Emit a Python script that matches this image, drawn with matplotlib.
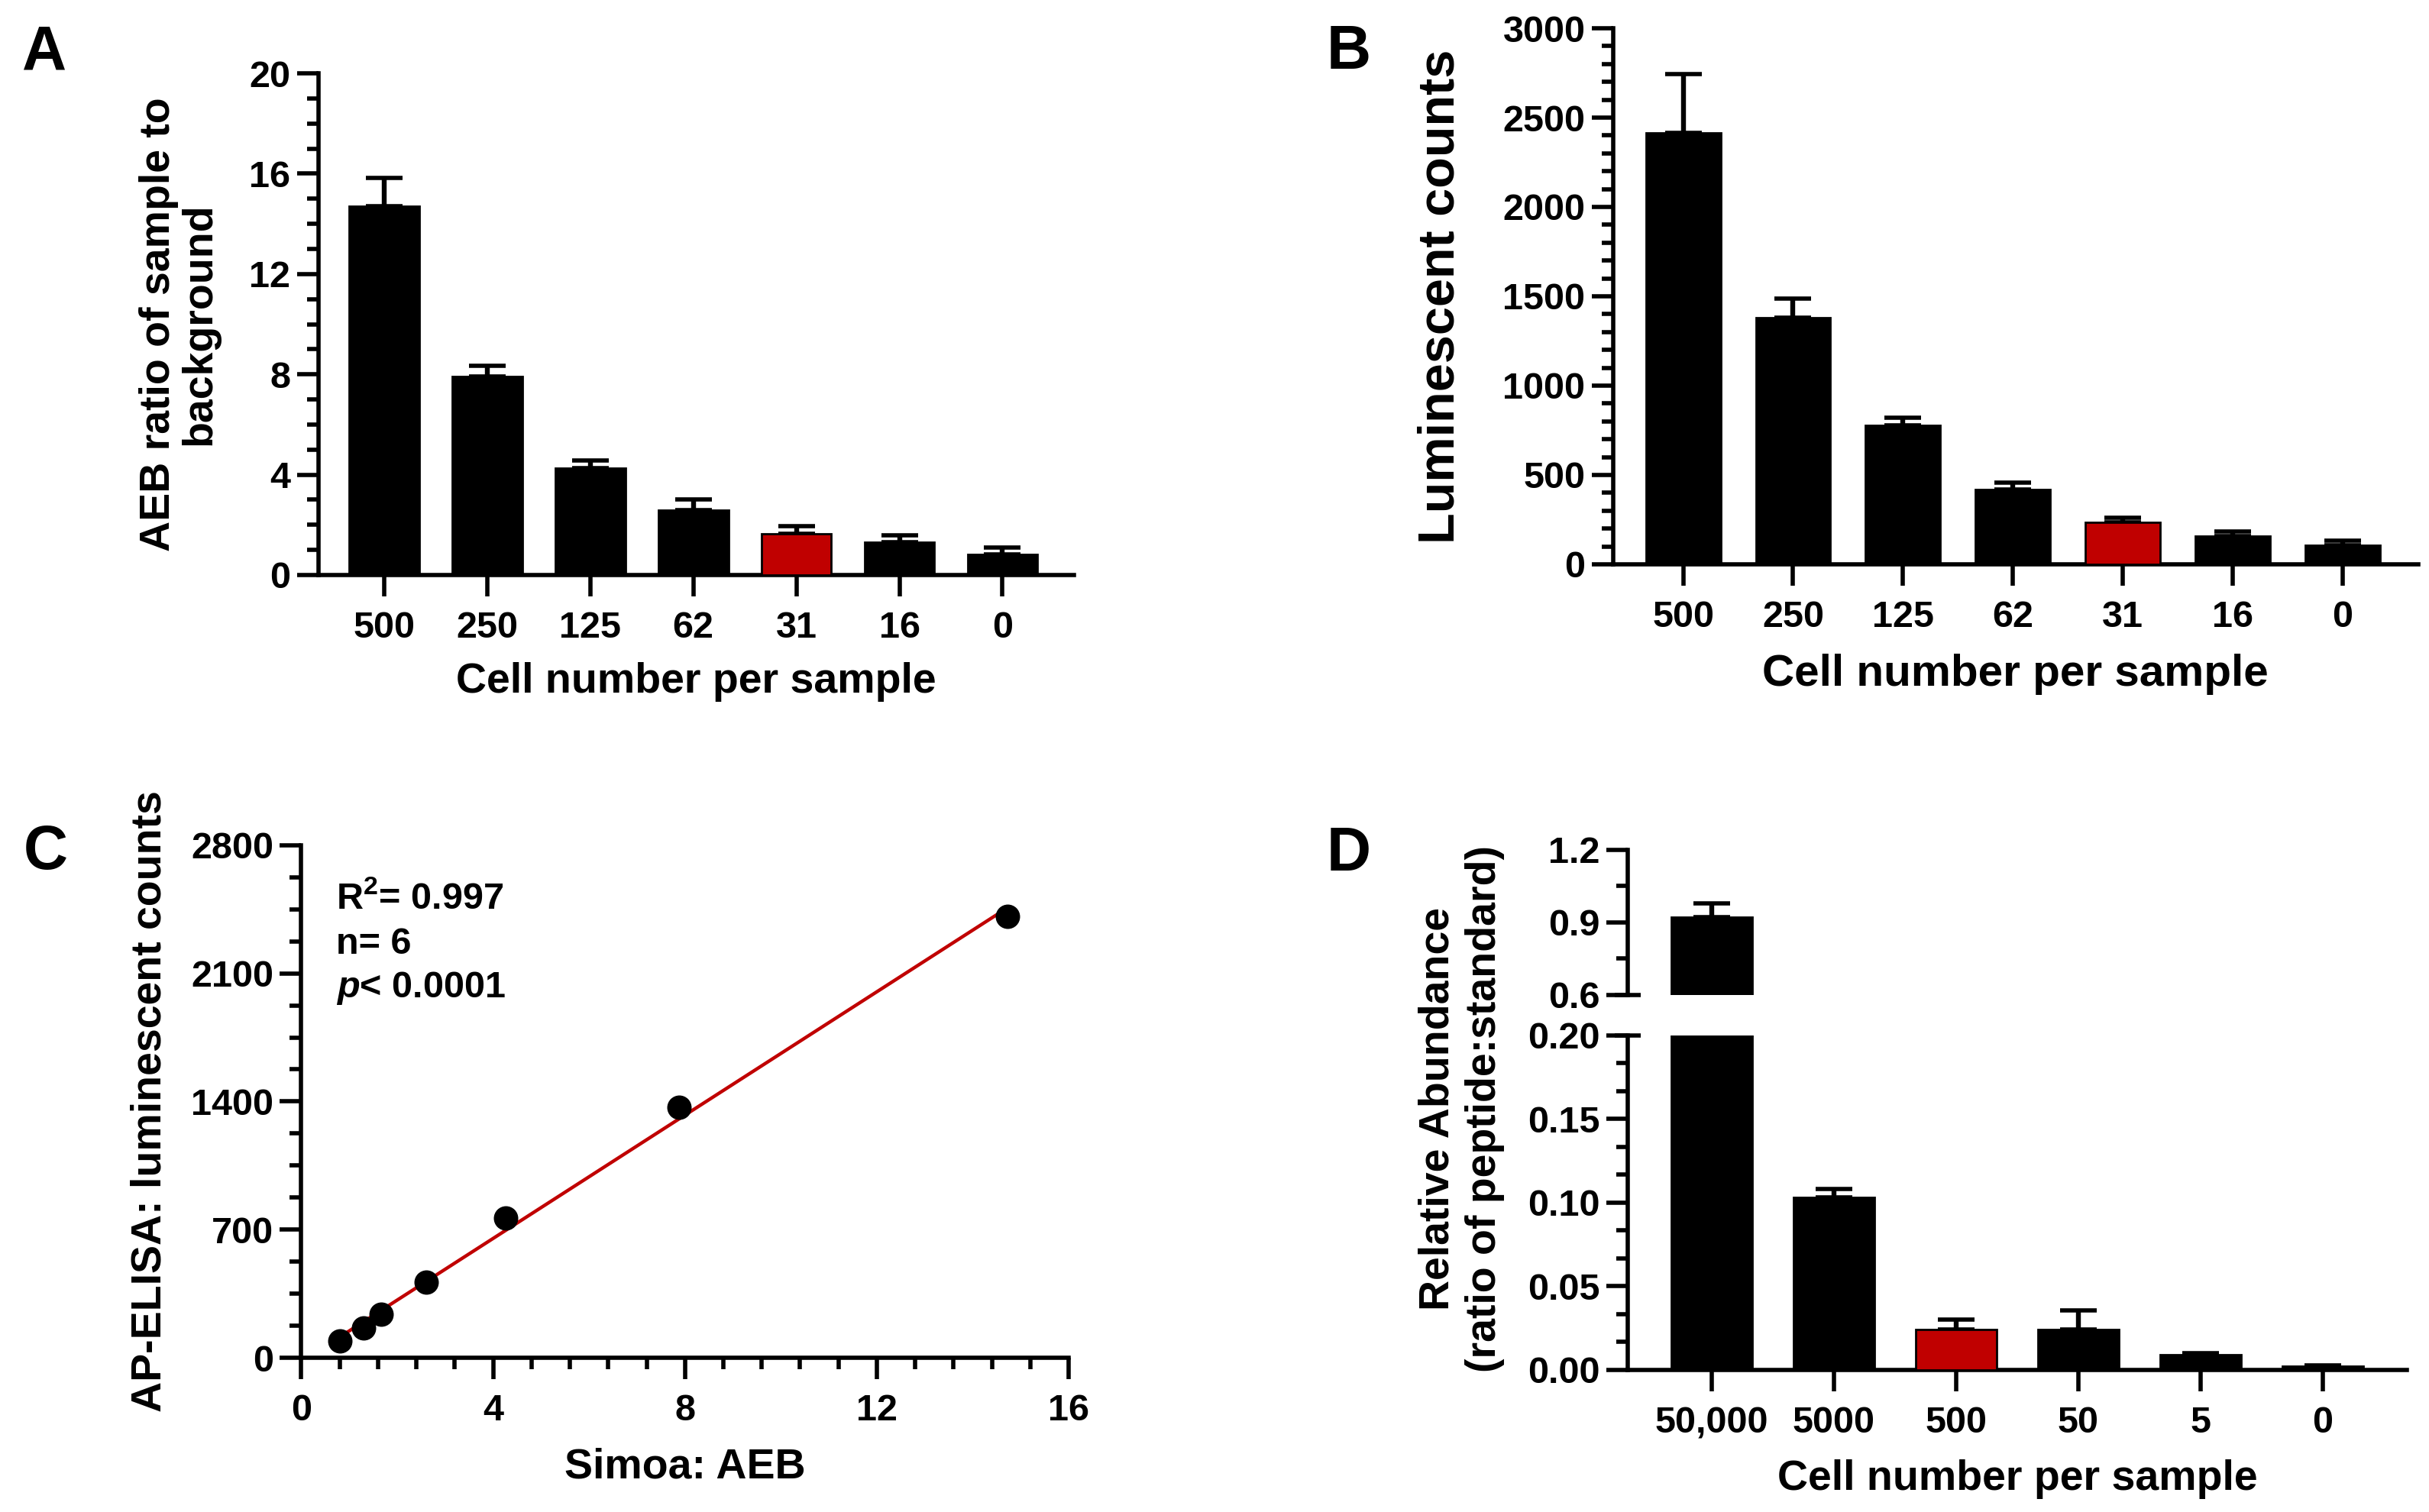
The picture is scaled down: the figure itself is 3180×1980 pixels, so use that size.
import numpy as np
import matplotlib
matplotlib.use("Agg")
import matplotlib.pyplot as plt
from matplotlib.ticker import MultipleLocator, FormatStrFormatter

plt.rcParams['font.family'] = ['Liberation Sans', 'DejaVu Sans']
plt.rcParams['font.weight'] = 'bold'
plt.rcParams['axes.labelweight'] = 'bold'
plt.rcParams['mathtext.fontset'] = 'custom'
plt.rcParams['mathtext.rm'] = 'Liberation Sans:bold'
plt.rcParams['mathtext.it'] = 'Liberation Sans:italic:bold'
plt.rcParams['mathtext.bf'] = 'Liberation Sans:bold'

# panel A / B: cell titration
cells_ab = ['500', '250', '125', '62', '31', '16', '0']
aeb_mean = [14.7, 7.9, 4.27, 2.6, 1.63, 1.3, 0.83]
aeb_err = [1.13, 0.43, 0.31, 0.4, 0.32, 0.28, 0.28]
lum_mean = [2416, 1381, 778, 419, 236, 157, 105]
lum_err = [327, 107, 42, 39, 26, 26, 26]
hl_ab = 4

# panel C: correlation
simoa_aeb = [0.81, 1.30, 1.67, 2.61, 4.26, 7.88, 14.72]
elisa_counts = [92, 163, 237, 413, 762, 1367, 2413]
stats_lines = ['$\\mathrm{R}^{2}$= 0.997', 'n= 6', '$p$< 0.0001']

# panel D: mass spec
cells_d = ['50,000', '5000', '500', '50', '5', '0']
abund_mean = [0.922, 0.1033, 0.0241, 0.0241, 0.009, 0.0022]
abund_err = [0.057, 0.0047, 0.006, 0.0115, 0.0011, 0.0005]
hl_d = 2

RED = '#C00000'
TICK_FS = 17.5
LABEL_FS = 20
LW = 2.0


def style(ax, xpad=7):
    for s in ['top', 'right']:
        ax.spines[s].set_visible(False)
    for s in ['left', 'bottom']:
        ax.spines[s].set_linewidth(LW)
    ax.tick_params(which='major', length=10, width=LW, labelsize=TICK_FS, direction='out')
    ax.tick_params(which='minor', length=5.5, width=LW, direction='out')
    ax.tick_params(axis='x', pad=xpad)
    ax.tick_params(axis='y', pad=3)


def bars(ax, labels, mean, err, hl, width=0.68):
    x = np.arange(len(labels))
    colors = ['black'] * len(labels)
    colors[hl] = RED
    ax.errorbar(x, mean, yerr=[np.zeros(len(mean)), err], fmt='none', ecolor='black',
                elinewidth=2.3, capsize=8.5, capthick=2.0, zorder=2)
    ax.bar(x, mean, width=width, color=colors, edgecolor='black', linewidth=1, zorder=3)
    ax.set_xticks(x)
    ax.set_xticklabels(labels)
    ax.set_xlim(-0.64, len(labels) - 1 + 0.69)
    return x


fig = plt.figure(figsize=(15.9, 9.9), dpi=200)

# A
axA = fig.add_axes([0.131, 0.6197, 0.311, 0.3318])
bars(axA, cells_ab, aeb_mean, aeb_err, hl_ab)
axA.set_ylim(0, 20)
axA.yaxis.set_major_locator(MultipleLocator(4))
axA.yaxis.set_minor_locator(MultipleLocator(1))
style(axA)
axA.set_xlabel('Cell number per sample', fontsize=LABEL_FS, labelpad=8)
axA.set_ylabel('AEB ratio of sample to\nbackground', fontsize=LABEL_FS, labelpad=14,
               linespacing=1.05)

# B
axB = fig.add_axes([0.664, 0.6268, 0.3316, 0.3545])
bars(axB, cells_ab, lum_mean, lum_err, hl_ab)
axB.set_ylim(0, 3000)
axB.yaxis.set_major_locator(MultipleLocator(500))
axB.yaxis.set_minor_locator(MultipleLocator(100))
style(axB)
axB.set_xlabel('Cell number per sample', fontsize=21, labelpad=9)
axB.set_ylabel('Luminescent counts', fontsize=24, labelpad=18)

# C
axC = fig.add_axes([0.124, 0.102, 0.316, 0.339])
slope, icpt = np.polyfit(simoa_aeb, elisa_counts, 1)
xl = np.array([min(simoa_aeb), max(simoa_aeb)])
axC.plot(xl, slope * xl + icpt, color=RED, lw=1.6, zorder=2)
axC.plot(simoa_aeb, elisa_counts, 'o', color='black', ms=10.5, zorder=3)
axC.set_xlim(0, 16)
axC.set_ylim(0, 2800)
axC.xaxis.set_major_locator(MultipleLocator(4))
axC.xaxis.set_minor_locator(MultipleLocator(0.8))
axC.yaxis.set_major_locator(MultipleLocator(700))
axC.yaxis.set_minor_locator(MultipleLocator(175))
style(axC)
for line, yv in zip(stats_lines, [2508, 2258, 2020]):
    axC.text(0.73, yv, line, fontsize=17.5, ha='left', va='center')
axC.set_xlabel('Simoa: AEB', fontsize=LABEL_FS, labelpad=9)
axC.set_ylabel('AP-ELISA: luminescent counts', fontsize=LABEL_FS, labelpad=10)

# D (broken axis)
axDt = fig.add_axes([0.670, 0.342, 0.321, 0.0959])
axDb = fig.add_axes([0.670, 0.094, 0.321, 0.2212])
for ax in (axDt, axDb):
    bars(ax, cells_d, abund_mean, abund_err, hl_d, width=0.66)
    ax.set_xlim(-0.69, len(cells_d) - 1 + 0.69)
    style(ax)
axDt.set_ylim(0.6, 1.2)
axDt.yaxis.set_major_locator(MultipleLocator(0.3))
axDt.yaxis.set_minor_locator(MultipleLocator(0.15))
axDt.yaxis.set_major_formatter(FormatStrFormatter('%.1f'))
axDt.spines['bottom'].set_visible(False)
axDt.tick_params(axis='x', which='both', bottom=False, labelbottom=False)
axDt.spines['left'].set_bounds(0.6, 1.2)
axDb.set_ylim(0, 0.2)
axDb.yaxis.set_major_locator(MultipleLocator(0.05))
axDb.yaxis.set_minor_locator(MultipleLocator(0.05 / 3))
axDb.yaxis.set_major_formatter(FormatStrFormatter('%.2f'))
# break marks at the ends of the two segments
axDt.plot([axDt.get_xlim()[0]], [0.6], marker='_', ms=12, mew=LW, color='black',
          clip_on=False, zorder=5)
axDb.plot([axDb.get_xlim()[0]], [0.2], marker='_', ms=12, mew=LW, color='black',
          clip_on=False, zorder=5)
axDb.set_xlabel('Cell number per sample', fontsize=LABEL_FS, labelpad=9)
fig.text(0.6016, 0.2667, 'Relative Abundance\n(ratio of peptide:standard)', rotation=90,
         ha='center', va='center', fontsize=LABEL_FS, linespacing=1.25,
         multialignment='center')

# panel letters
for letter, (px, py) in zip('ABCD', [(58, 69), (1766, 69), (60, 1117), (1766, 1119)]):
    fig.text(px / 3180, 1 - py / 1980, letter, fontsize=29, ha='center', va='center')

fig.savefig('out.png', dpi=200)
